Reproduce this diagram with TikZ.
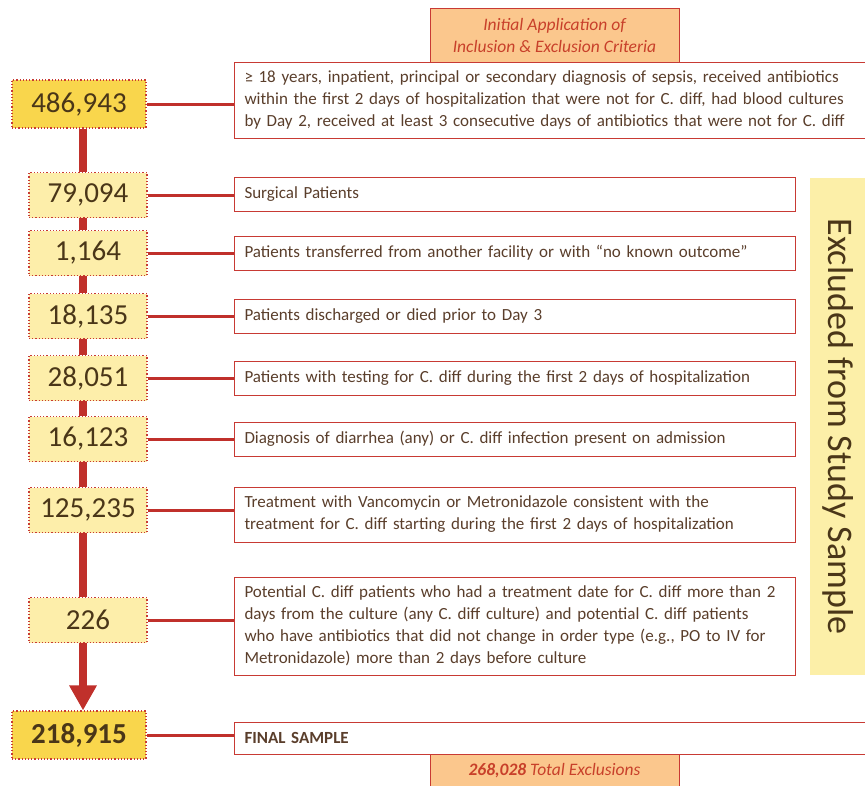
\documentclass[tikz,border=0pt]{standalone}
\usepackage{fontspec}
\setmainfont{Carlito}
\usetikzlibrary{arrows.meta}

\definecolor{boxred}{HTML}{C83A34}
\definecolor{trunkred}{HTML}{C0302B}
\definecolor{paleyellow}{HTML}{FDEEAA}
\definecolor{gold}{HTML}{F9D64C}
\definecolor{peach}{HTML}{FBC78D}
\definecolor{sidebar}{HTML}{FCEFA8}
\definecolor{numtext}{HTML}{4A3618}
\definecolor{crittext}{HTML}{5A3E2B}
\definecolor{tagtext}{HTML}{C8402A}

\begin{document}
\begin{tikzpicture}[x=1pt,y=-1pt,
	numbox/.style={draw=boxred, dotted, line width=1.2pt, fill=paleyellow, minimum width=118, minimum height=45, font=\fontsize{29}{32}\selectfont, text=numtext},
	bignum/.style={numbox, fill=gold, minimum width=134, minimum height=48},
	crit/.style={draw=boxred, line width=1pt, fill=white, anchor=west, minimum width=561, text width=541, inner xsep=10, align=left, minimum height=34, font=\fontsize{17}{22}\selectfont, text=crittext},
	tag/.style={draw=boxred, line width=1pt, fill=peach, minimum width=249, text=tagtext, font=\fontsize{17.5}{22}\selectfont\itshape, align=center},
	link/.style={trunkred, line width=3pt},
	trunk/.style={trunkred, line width=8pt}]
		\clip (0,0) rectangle (865,785);
		
		% Counts
		\node[bignum] (n1) at (79,104) {486,943};
		\node[numbox] (n2) at (88,195) {79,094};
		\node[numbox] (n3) at (88,253) {1,164};
		\node[numbox] (n4) at (88,316) {18,135};
		\node[numbox] (n5) at (88,378) {28,051};
		\node[numbox] (n6) at (88,439) {16,123};
		\node[numbox] (n7) at (88,510) {125,235};
		\node[numbox] (n8) at (88,620) {226};
		\node[bignum] (n9) at (79,735) {\textbf{218,915}};
		\coordinate (axis) at (83,0);
		
		% Criteria
		\node[crit, minimum width=700, text width=680, minimum height=76] (c1) at (234,100) {≥ 18 years, inpatient, principal or secondary diagnosis of sepsis, received antibiotics\\within the first 2 days of hospitalization that were not for C. diff, had blood cultures\\by Day 2, received at least 3 consecutive days of antibiotics that were not for C. diff};
		\node[crit] (c2) at (234,194.5) {Surgical Patients};
		\node[crit] (c3) at (234,253) {Patients transferred from another facility or with “no known outcome”};
		\node[crit] (c4) at (234,316) {Patients discharged or died prior to Day 3};
		\node[crit] (c5) at (234,378) {Patients with testing for C. diff during the first 2 days of hospitalization};
		\node[crit] (c6) at (234,439) {Diagnosis of diarrhea (any) or C. diff infection present on admission};
		\node[crit, minimum height=55] (c7) at (234,514.5) {Treatment with Vancomycin or Metronidazole consistent with the\\treatment for C. diff starting during the first 2 days of hospitalization};
		\node[crit, minimum height=98] (c8) at (234,626) {Potential C. diff patients who had a treatment date for C. diff more than 2\\days from the culture (any C. diff culture) and potential C. diff patients\\who have antibiotics that did not change in order type (e.g., PO to IV for\\Metronidazole) more than 2 days before culture};
		\node[crit, minimum width=700, text width=680, minimum height=32] (c9) at (234,738) {\textbf{FINAL SAMPLE}};
		
		% Tags
		\node[tag, minimum height=54] (head) at (554.5,35) {Initial Application of\\Inclusion \& Exclusion Criteria};
		\node[tag, minimum height=34] (total) at (554.5,771) {\textbf{268,028} Total Exclusions};
		\node[fill=sidebar, rotate=-90, minimum width=497, minimum height=56, text=numtext, font=\fontsize{36}{40}\selectfont] (side) at (838,426.5) {Excluded from Study Sample};
		
		% Edges
		\foreach \a/\b in {n1/n2,n2/n3,n3/n4,n4/n5,n5/n6,n6/n7,n7/n8}
			\draw[trunk] (\a.south -| axis) -- (\b.north -| axis);
		\draw[trunk, -{Triangle[width=26pt,length=25pt]}] (n8.south -| axis) -- (n9.north -| axis);
		\foreach \i in {1,...,9}
			\draw[link] (n\i.east) -- (n\i.east -| c\i.west);
		
	\end{tikzpicture}
\end{document}
